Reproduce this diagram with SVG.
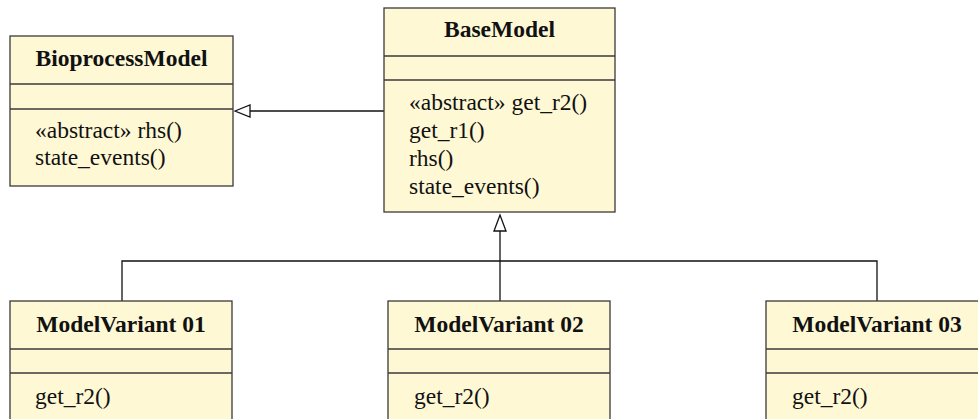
<svg xmlns="http://www.w3.org/2000/svg" width="978" height="419" viewBox="0 0 978 419">
<style>
.box{fill:#FEF8D5;stroke:#3a3a3a;stroke-width:1.3}
.sep{stroke:#3a3a3a;stroke-width:1.3}
.t{font-family:"Liberation Serif","Times New Roman",serif;font-size:23.5px;fill:#111}
.h{font-weight:bold;text-anchor:middle}
.c{fill:none;stroke:#111;stroke-width:1.3}
.arr{fill:#fff;stroke:#111;stroke-width:1.3}
</style>
<rect width="978" height="419" fill="#fff"/>
<g id="connectors">
<polyline class="c" points="384,111 250,111"/>
<polygon class="arr" points="235,111 250,105 250,117"/>
<polyline class="c" points="122,301 122,261 877,261 877,301"/>
<polyline class="c" points="500,301 500,231"/>
<polygon class="arr" points="500,215 494,231 506,231"/>
</g>
<g id="BioprocessModel">
<rect class="box" x="10" y="36" width="223" height="150"/>
<line class="sep" x1="10" y1="84" x2="233" y2="84"/>
<line class="sep" x1="10" y1="109" x2="233" y2="109"/>
<text class="t h" x="121.5" y="66">BioprocessModel</text>
<text class="t" x="35" y="138">«abstract» rhs()</text>
<text class="t" x="35" y="165">state_events()</text>
</g>
<g id="BaseModel">
<rect class="box" x="384" y="8" width="231" height="204"/>
<line class="sep" x1="384" y1="56" x2="615" y2="56"/>
<line class="sep" x1="384" y1="80" x2="615" y2="80"/>
<text class="t h" x="499.5" y="37">BaseModel</text>
<text class="t" x="409" y="110">«abstract» get_r2()</text>
<text class="t" x="409" y="138">get_r1()</text>
<text class="t" x="409" y="166">rhs()</text>
<text class="t" x="409" y="194">state_events()</text>
</g>
<g id="ModelVariant01">
<rect class="box" x="10" y="301" width="222" height="140"/>
<line class="sep" x1="10" y1="349" x2="232" y2="349"/>
<line class="sep" x1="10" y1="373" x2="232" y2="373"/>
<text class="t h" x="121" y="332">ModelVariant 01</text>
<text class="t" x="35" y="404">get_r2()</text>
</g>
<g id="ModelVariant02">
<rect class="box" x="388" y="301" width="222" height="140"/>
<line class="sep" x1="388" y1="349" x2="610" y2="349"/>
<line class="sep" x1="388" y1="373" x2="610" y2="373"/>
<text class="t h" x="499" y="332">ModelVariant 02</text>
<text class="t" x="414" y="404">get_r2()</text>
</g>
<g id="ModelVariant03">
<rect class="box" x="766" y="301" width="222" height="140"/>
<line class="sep" x1="766" y1="349" x2="988" y2="349"/>
<line class="sep" x1="766" y1="373" x2="988" y2="373"/>
<text class="t h" x="877" y="332">ModelVariant 03</text>
<text class="t" x="792" y="404">get_r2()</text>
</g>
</svg>
